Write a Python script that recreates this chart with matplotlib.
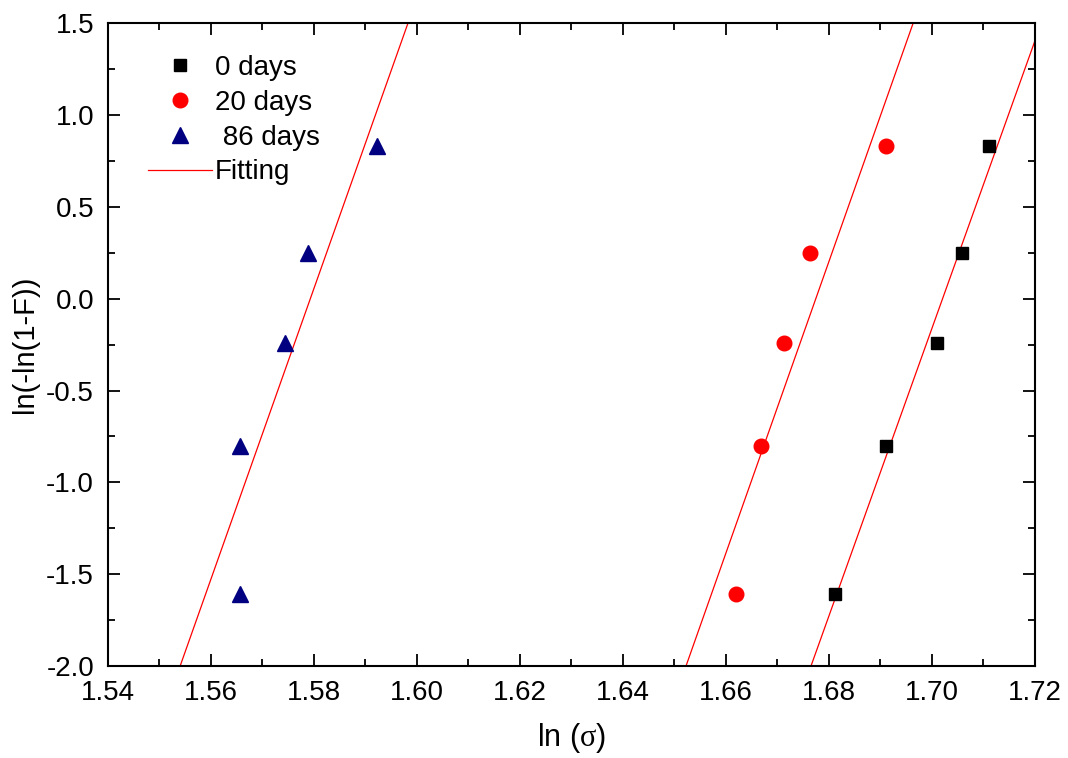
import numpy as np
import matplotlib
matplotlib.use('Agg')
import matplotlib.pyplot as plt
from matplotlib.ticker import MultipleLocator, FormatStrFormatter

plt.rcParams['font.family'] = ['Liberation Sans', 'DejaVu Sans']
plt.rcParams['axes.unicode_minus'] = False
plt.rcParams['mathtext.fontset'] = 'custom'
plt.rcParams['mathtext.rm'] = 'Liberation Serif'
plt.rcParams['mathtext.it'] = 'Liberation Serif'

# ln(-ln(1-F)) levels shared by the three series
y_vals = [-1.61, -0.80, -0.24, 0.25, 0.83]

# ln(sigma)
x_0days = [1.6812, 1.6911, 1.7010, 1.7058, 1.7111]
x_20days = [1.6619, 1.6668, 1.6713, 1.6763, 1.6911]
x_86days = [1.5656, 1.5656, 1.5744, 1.5788, 1.5922]

fig = plt.figure(figsize=(10.68, 7.58), dpi=100)
ax = fig.add_axes([0.1011, 0.1214, 0.8680, 0.8479])

ax.plot(x_0days, y_vals, 's', color='black', ms=9, label='0 days', zorder=3)
ax.plot(x_20days, y_vals, 'o', color='red', ms=10.5, label='20 days', zorder=3)
ax.plot(x_86days, y_vals, '^', color='#000080', ms=11.5, label=' 86 days', zorder=3)

# linear fits (as in the original "Fitting")
x_line = np.array([1.50, 1.76])
first = True
for xs in (x_0days, x_20days, x_86days):
    k, b = np.polyfit(xs, y_vals, 1)
    ax.plot(x_line, k * x_line + b, '-', color='red', lw=0.9,
            label='Fitting' if first else None, zorder=2)
    first = False

ax.set_xlim(1.54, 1.72)
ax.set_ylim(-2.0, 1.5)
ax.xaxis.set_major_locator(MultipleLocator(0.02))
ax.xaxis.set_minor_locator(MultipleLocator(0.01))
ax.yaxis.set_major_locator(MultipleLocator(0.5))
ax.yaxis.set_minor_locator(MultipleLocator(0.25))
ax.xaxis.set_major_formatter(FormatStrFormatter('%.2f'))
ax.yaxis.set_major_formatter(FormatStrFormatter('%.1f'))

ax.tick_params(which='both', direction='in', top=True, right=True, width=1.3)
ax.tick_params(which='major', length=8.5, labelsize=20, pad=10)
ax.tick_params(which='minor', length=4.8)
for sp in ax.spines.values():
    sp.set_linewidth(1.5)

ax.set_xlabel(r'ln ($\sigma$)', fontsize=22, labelpad=11)
ax.set_ylabel('ln(-ln(1-F))', fontsize=21, labelpad=5)

ax.legend(loc='upper left', bbox_to_anchor=(0.043, 0.951), frameon=False,
          fontsize=20, handlelength=2.3, handletextpad=0.1, labelspacing=0.32,
          borderpad=0, borderaxespad=0)

fig.savefig('out.png', dpi=100)
